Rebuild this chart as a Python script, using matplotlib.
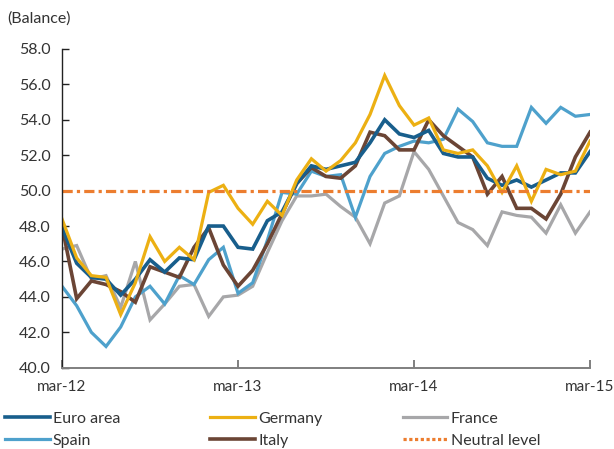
import matplotlib
matplotlib.use("Agg")
import matplotlib.pyplot as plt
from matplotlib.lines import Line2D

# monthly, mar-12 .. mar-15
months = list(range(37))
tick_pos = [0, 12, 24, 36]
tick_labels = ["mar-12", "mar-13", "mar-14", "mar-15"]

euro_area = [47.9, 45.9, 45.1, 45.0, 44.1, 45.0, 46.1, 45.4, 46.2, 46.1, 48.0, 48.0,
             46.8, 46.7, 48.3, 48.8, 50.4, 51.4, 51.2, 51.4, 51.6, 52.7, 54.0, 53.2,
             53.0, 53.4, 52.1, 51.9, 51.9, 50.7, 50.3, 50.6, 50.2, 50.6, 51.0, 51.0, 52.2]
germany = [48.4, 46.2, 45.2, 45.1, 43.0, 44.8, 47.4, 46.0, 46.8, 46.1, 49.9, 50.3,
           49.0, 48.1, 49.4, 48.6, 50.6, 51.8, 51.1, 51.7, 52.7, 54.3, 56.5, 54.8,
           53.7, 54.1, 52.3, 52.1, 52.3, 51.4, 49.9, 51.4, 49.4, 51.2, 50.9, 51.1, 52.8]
france = [46.7, 46.9, 45.0, 45.2, 43.4, 46.0, 42.7, 43.6, 44.6, 44.7, 42.9, 44.0,
          44.1, 44.6, 46.5, 48.3, 49.7, 49.7, 49.8, 49.1, 48.5, 47.0, 49.3, 49.7,
          52.2, 51.2, 49.7, 48.2, 47.8, 46.9, 48.8, 48.6, 48.5, 47.6, 49.2, 47.6, 48.8]
spain = [44.6, 43.5, 42.0, 41.2, 42.3, 44.0, 44.6, 43.6, 45.2, 44.7, 46.1, 46.8,
         44.2, 44.8, 47.2, 49.9, 49.8, 51.1, 50.8, 50.9, 48.5, 50.8, 52.1, 52.5,
         52.8, 52.7, 52.9, 54.6, 53.9, 52.7, 52.5, 52.5, 54.7, 53.8, 54.7, 54.2, 54.3]
italy = [48.0, 43.9, 44.9, 44.7, 44.3, 43.7, 45.7, 45.4, 45.1, 46.8, 47.9, 45.8,
         44.6, 45.5, 47.0, 48.7, 50.4, 51.3, 50.8, 50.7, 51.4, 53.3, 53.1, 52.3,
         52.3, 54.0, 53.1, 52.5, 51.9, 49.8, 50.8, 49.0, 49.0, 48.4, 49.8, 51.9, 53.3]
neutral = 50.0

series = [
    ("France", france, "#a7a7a9", 2.3),
    ("Spain", spain, "#4ea1cc", 2.3),
    ("Italy", italy, "#6b4535", 2.6),
    ("Euro area", euro_area, "#185e8c", 2.6),
    ("Germany", germany, "#ecb013", 2.3),
]
colors = {name: c for name, _, c, _ in series}
widths = {name: w for name, _, _, w in series}
neutral_color = "#ec7d2f"

plt.rcParams["font.family"] = ["Lato", "DejaVu Sans"]
text_color = "#333333"

fig = plt.figure(figsize=(6.14, 4.49), dpi=100)
ax = fig.add_axes([0.101, 0.181, 0.860, 0.710])

for name, vals, c, w in series:
    ax.plot(months, vals, color=c, lw=w, solid_joinstyle="miter")
ax.axhline(neutral, color=neutral_color, lw=2.3, linestyle=(0, (3.2, 1.3, 1.0, 1.3)))

ax.set_xlim(0, 36)
ax.set_ylim(40, 58)
ax.set_yticks(range(40, 59, 2))
ax.set_yticklabels([f"{v:.1f}" for v in range(40, 59, 2)])
ax.set_xticks(tick_pos)
ax.set_xticklabels(tick_labels)

for s in ["top", "right"]:
    ax.spines[s].set_visible(False)
ax.spines["left"].set_color("#222222")
ax.spines["left"].set_linewidth(1.0)
ax.spines["bottom"].set_color("#7f7f7f")
ax.spines["bottom"].set_linewidth(1.4)
ax.tick_params(axis="y", direction="in", length=5, width=1.0, color="#222222",
               labelsize=11.5, labelcolor=text_color, pad=8)
ax.tick_params(axis="x", direction="in", length=6, width=1.4, color="#7f7f7f",
               labelsize=11, labelcolor=text_color, pad=9)

fig.text(0.012, 0.958, "(Balance)", fontsize=11.5, color=text_color, va="center", ha="left")

# legend: three columns of two rows
cols = [
    (0.0, ["Euro area", "Spain"]),
    (0.335, ["Germany", "Italy"]),
    (0.648, ["France", "Neutral level"]),
]
for x0, names in cols:
    handles = []
    for n in names:
        if n == "Neutral level":
            handles.append(Line2D([], [], color=neutral_color, lw=2.3, linestyle=(0, (1.0, 0.8))))
        else:
            handles.append(Line2D([], [], color=colors[n], lw=widths[n]))
    leg = fig.legend(handles, names, loc="upper left", bbox_to_anchor=(x0, 0.094),
                     frameon=False, fontsize=11.5, handlelength=2.8, handletextpad=0.2,
                     labelspacing=0.5, borderaxespad=0.0, borderpad=0.3)
    for t in leg.get_texts():
        t.set_color(text_color)

fig.savefig("out.png", dpi=100)
